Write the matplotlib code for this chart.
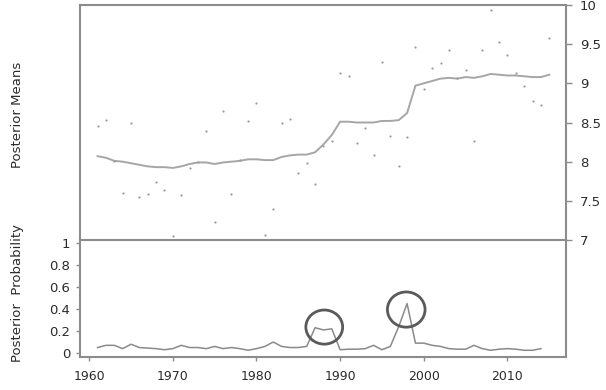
import matplotlib
matplotlib.use("Agg")
import matplotlib.pyplot as plt
from matplotlib.patches import Ellipse
import numpy as np

years = list(range(1961, 2016))
observed = [8.46, 8.53, 8.01, 7.60, 8.49, 7.55, 7.59, 7.74, 7.64, 7.05,
            7.58, 7.92, 8.00, 8.39, 7.23, 8.65, 7.59, 8.02, 8.52, 8.75,
            7.07, 7.40, 8.50, 8.55, 7.86, 7.98, 7.71, 8.20, 8.27, 9.13,
            9.09, 8.24, 8.43, 8.08, 9.27, 8.33, 7.95, 8.32, 9.46, 8.93,
            9.19, 9.26, 9.43, 9.07, 9.17, 8.26, 9.42, 9.94, 9.53, 9.36,
            9.13, 8.96, 8.78, 8.72, 9.58]
post_mean = [8.07, 8.05, 8.01, 8.00, 7.98, 7.96, 7.94, 7.93, 7.93, 7.92,
             7.94, 7.97, 7.99, 7.99, 7.97, 7.99, 8.00, 8.01, 8.03, 8.03,
             8.02, 8.02, 8.06, 8.08, 8.09, 8.09, 8.12, 8.22, 8.34, 8.51,
             8.51, 8.50, 8.50, 8.50, 8.52, 8.52, 8.53, 8.62, 8.97, 9.00,
             9.03, 9.06, 9.07, 9.06, 9.08, 9.07, 9.09, 9.12, 9.11, 9.10,
             9.10, 9.09, 9.08, 9.08, 9.11]
prob_years = list(range(1961, 2015))
post_prob = [0.05, 0.07, 0.07, 0.04, 0.08, 0.05, 0.045, 0.04, 0.03, 0.04,
             0.07, 0.05, 0.05, 0.04, 0.06, 0.04, 0.05, 0.04, 0.025, 0.04,
             0.06, 0.10, 0.06, 0.05, 0.05, 0.06, 0.23, 0.21, 0.22, 0.03,
             0.035, 0.035, 0.04, 0.07, 0.03, 0.06, 0.24, 0.45, 0.09, 0.09,
             0.07, 0.06, 0.04, 0.035, 0.035, 0.07, 0.04, 0.025, 0.035, 0.04,
             0.035, 0.025, 0.025, 0.04]
# highlight circles: (center year, center prob, width years, height prob)
circles = [(1988.1, 0.236, 4.4, 0.31), (1997.9, 0.395, 4.5, 0.32)]

top_ticks = [7, 7.5, 8, 8.5, 9, 9.5, 10]
top_ticklabels = ["7", "7.5", "8", "8.5", "9", "9.5", "10"]
bot_ticks = [0, 0.2, 0.4, 0.6, 0.8, 1]
bot_ticklabels = ["0", "0.2", "0.4", "0.6", "0.8", "1"]
x_ticks = [1960, 1970, 1980, 1990, 2000, 2010]

W, H = 606, 390
fig = plt.figure(figsize=(W / 100, H / 100), dpi=100)
spine_c = "#8c8c8c"
txt_c = "#2b2b2b"

L, R = 80, 566
ax1 = fig.add_axes([L / W, 1 - 240 / H, (R - L) / W, (240 - 5) / H])
ax2 = fig.add_axes([L / W, 1 - 357 / H, (R - L) / W, (357 - 240) / H])

xlim = (1958.9, 2017.0)
for ax in (ax1, ax2):
    ax.set_xlim(*xlim)
    for s in ax.spines.values():
        s.set_color(spine_c)
        s.set_linewidth(1.5)
    ax.tick_params(colors=spine_c, labelcolor=txt_c, labelsize=9, length=3, width=1)

# top panel
ax1.scatter(years, observed, s=2.5, color="#9a9a9a", linewidths=0, zorder=3)
ax1.plot(years, post_mean, color="#a6a6a6", lw=1.4, zorder=2)
ax1.set_ylim(7, 10)
ax1.spines["bottom"].set_visible(False)
ax1.yaxis.tick_right()
ax1.set_yticks(top_ticks)
ax1.set_yticklabels(top_ticklabels, fontsize=9.5)
ax1.tick_params(axis="y", pad=6, length=4)
ax1.set_xticks([])

# bottom panel
ax2.plot(prob_years, post_prob, color="#8a8a8a", lw=1.1)
for cx, cy, w, h in circles:
    ax2.add_patch(Ellipse((cx, cy), w, h, fill=False, edgecolor="#5a5a5a", lw=2.0, zorder=4))
ax2.set_ylim(-0.036, 1.027)
ax2.set_yticks(bot_ticks)
ax2.set_yticklabels(bot_ticklabels, fontsize=9.5)
ax2.set_xticks(x_ticks)
ax2.set_xticklabels([str(t) for t in x_ticks], fontsize=9)
ax2.tick_params(axis="y", pad=4)
ax2.tick_params(axis="x", pad=6)

fig.text(18 / W, 1 - 115 / H, "Posterior Means", rotation=90, ha="center", va="center",
         fontsize=9.5, color=txt_c)
fig.text(18 / W, 1 - 293 / H, "Posterior  Probability", rotation=90, ha="center", va="center",
         fontsize=9.5, color=txt_c)

fig.savefig("out.png", dpi=100)
